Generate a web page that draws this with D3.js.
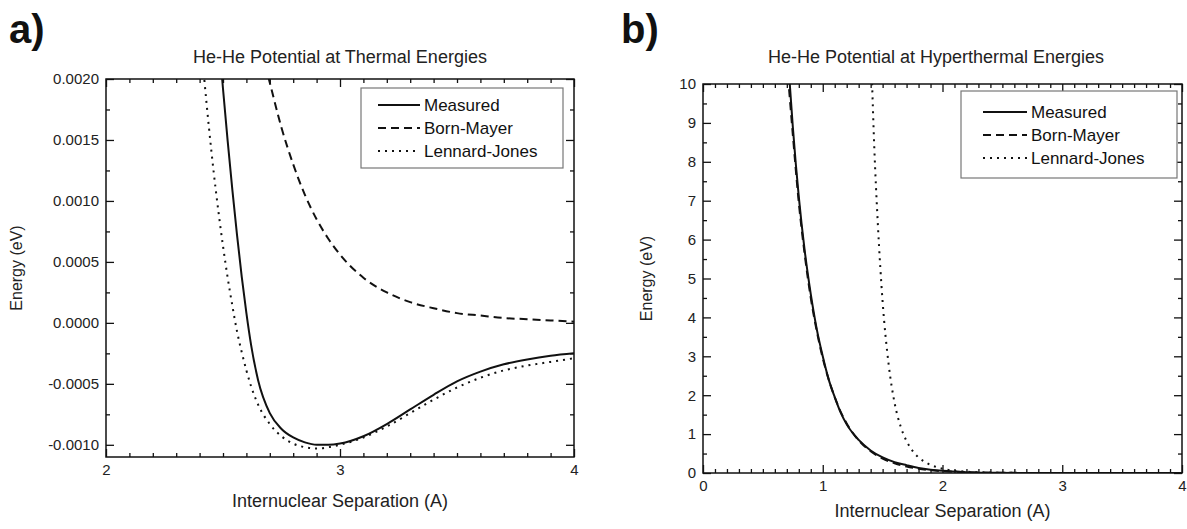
<!DOCTYPE html>
<html>
<head>
<meta charset="utf-8">
<script src="https://cdn.jsdelivr.net/npm/d3@7"></script>
<style>
  body { margin: 0; background: #fff; }
  svg { display: block; font-family: "Liberation Sans", Arial, sans-serif; }
</style>
</head>
<body>
<svg id="chart" width="1187" height="529"></svg>
<script>
// panel a: thermal energies (eV vs A)
const aMeasX = [2.49, 2.50, 2.52, 2.54, 2.56, 2.58, 2.60, 2.62, 2.65, 2.70, 2.75, 2.80, 2.85, 2.90, 2.95, 3.00, 3.10, 3.20, 3.30, 3.40, 3.50, 3.60, 3.70, 3.80, 3.90, 4.00];
const aMeasY = [0.00215, 0.00192, 0.00149, 0.00109, 0.00072, 0.00038, 0.00008, -0.00018, -0.00047, -0.00074, -0.00087, -0.00094, -0.00098, -0.00100, -0.00100, -0.00099, -0.00093, -0.00083, -0.00071, -0.00059, -0.00048, -0.00040, -0.00034, -0.00030, -0.00027, -0.00025];
const aBornX = [2.68, 2.70, 2.75, 2.80, 2.85, 2.90, 2.95, 3.00, 3.10, 3.20, 3.30, 3.40, 3.50, 3.60, 3.70, 3.80, 3.90, 4.00];
const aBornY = [0.00212, 0.00197, 0.00160, 0.00130, 0.00105, 0.00085, 0.00069, 0.00056, 0.00037, 0.00025, 0.00017, 0.00012, 0.00008, 0.00006, 0.00004, 0.00003, 0.00002, 0.00001];
const aLJX = [2.40, 2.42, 2.44, 2.46, 2.48, 2.50, 2.52, 2.54, 2.56, 2.58, 2.60, 2.62, 2.65, 2.70, 2.75, 2.80, 2.85, 2.90, 2.95, 3.00, 3.10, 3.20, 3.30, 3.40, 3.50, 3.60, 3.70, 3.80, 3.90, 4.00];
const aLJY = [0.00245, 0.00200, 0.00160, 0.00124, 0.00092, 0.00063, 0.00037, 0.00014, -0.00007, -0.00024, -0.00039, -0.00052, -0.00067, -0.00083, -0.00093, -0.00099, -0.00102, -0.00103, -0.00102, -0.00100, -0.00094, -0.00085, -0.00074, -0.00063, -0.00053, -0.00045, -0.00039, -0.00035, -0.00032, -0.00029];

// panel b: hyperthermal energies
const bMeasX = [0.72, 0.75, 0.80, 0.85, 0.90, 0.95, 1.00, 1.05, 1.10, 1.15, 1.20, 1.30, 1.40, 1.50, 1.60, 1.70, 1.80, 1.90, 2.00, 2.20, 2.40, 2.60, 3.00, 4.00];
const bMeasY = [10.2, 8.9, 7.1, 5.7, 4.6, 3.7, 3.0, 2.4, 1.95, 1.55, 1.25, 0.85, 0.58, 0.40, 0.28, 0.20, 0.13, 0.085, 0.055, 0.022, 0.008, 0.002, 0, 0];
const bBornX = [0.71, 0.75, 0.80, 0.85, 0.90, 0.95, 1.00, 1.05, 1.10, 1.15, 1.20, 1.30, 1.40, 1.50, 1.60, 1.70, 1.80, 1.90, 2.00, 2.20, 2.40, 2.60, 3.00, 4.00];
const bBornY = [10.2, 8.7, 6.95, 5.6, 4.5, 3.65, 2.95, 2.4, 1.95, 1.57, 1.27, 0.84, 0.56, 0.37, 0.25, 0.165, 0.11, 0.072, 0.048, 0.021, 0.009, 0.004, 0.001, 0];
const bLJX = [1.41, 1.43, 1.46, 1.50, 1.55, 1.60, 1.65, 1.70, 1.75, 1.80, 1.85, 1.90, 2.00, 2.10, 2.20, 2.30, 2.50, 2.70, 3.00, 4.00];
const bLJY = [10.2, 8.4, 6.4, 4.4, 2.8, 1.8, 1.2, 0.82, 0.57, 0.40, 0.29, 0.21, 0.11, 0.06, 0.033, 0.018, 0.006, 0.002, 0.0005, 0];

const seriesNames = ['Measured', 'Born-Mayer', 'Lennard-Jones'];
const aYTicks = [-0.0010, -0.0005, 0.0000, 0.0005, 0.0010, 0.0015, 0.0020];
const aXTicks = [2, 3, 4];
const bYTicks = [0, 1, 2, 3, 4, 5, 6, 7, 8, 9, 10];
const bXTicks = [0, 1, 2, 3, 4];

const styles = [
  { dash: null, width: 2 },
  { dash: '8,5', width: 2 },
  { dash: '2,5', width: 2 }
];

const svg = d3.select('#chart');
const zip = (xs, ys) => xs.map((x, i) => [x, ys[i]]);
// plain hyphen minus, like the original plot
const fmt4 = v => d3.format('.4f')(v).replace('\u2212', '-');

function panel(cfg) {
  const x = d3.scaleLinear().domain(cfg.xDomain).range([cfg.left, cfg.right]);
  const y = d3.scaleLinear().domain(cfg.yDomain).range([cfg.bottom, cfg.top]);
  const w = cfg.right - cfg.left, h = cfg.bottom - cfg.top;

  svg.append('clipPath').attr('id', 'clip-' + cfg.id)
    .append('rect').attr('x', cfg.left).attr('y', cfg.top).attr('width', w).attr('height', h);

  const g = svg.append('g');

  // major + minor ticks on all four sides, pointing inward
  const addAxis = (gen, tr, size, vals, fmt) => {
    const a = g.append('g').attr('transform', tr)
      .call(gen.tickValues(vals).tickSize(size).tickPadding(7).tickFormat(fmt || ''));
    a.select('.domain').remove();
    a.selectAll('line').attr('stroke', '#111').attr('stroke-width', 1.3);
    a.selectAll('text').attr('fill', '#222').style('font-size', '15px');
    return a;
  };
  addAxis(d3.axisBottom(x), `translate(0,${cfg.bottom})`, -8, cfg.xTicks, cfg.xFmt);
  addAxis(d3.axisBottom(x), `translate(0,${cfg.bottom})`, -4, cfg.xMinor);
  addAxis(d3.axisTop(x), `translate(0,${cfg.top})`, -8, cfg.xTicks);
  addAxis(d3.axisTop(x), `translate(0,${cfg.top})`, -4, cfg.xMinor);
  addAxis(d3.axisLeft(y), `translate(${cfg.left},0)`, -8, cfg.yTicks, cfg.yFmt);
  addAxis(d3.axisLeft(y), `translate(${cfg.left},0)`, -4, cfg.yMinor);
  addAxis(d3.axisRight(y), `translate(${cfg.right},0)`, -8, cfg.yTicks);
  addAxis(d3.axisRight(y), `translate(${cfg.right},0)`, -4, cfg.yMinor);

  g.append('rect').attr('x', cfg.left).attr('y', cfg.top).attr('width', w).attr('height', h)
    .attr('fill', 'none').attr('stroke', '#111').attr('stroke-width', 1.5);

  const line = d3.line().x(d => x(d[0])).y(d => y(d[1])).curve(d3.curveMonotoneX);
  cfg.series.forEach((s, i) => {
    g.append('path').datum(s)
      .attr('clip-path', `url(#clip-${cfg.id})`)
      .attr('fill', 'none').attr('stroke', '#111')
      .attr('stroke-width', styles[i].width)
      .attr('stroke-dasharray', styles[i].dash)
      .attr('d', line);
  });

  // legend
  const L = cfg.legend;
  g.append('rect').attr('x', L.x0).attr('y', L.y0).attr('width', L.x1 - L.x0).attr('height', L.y1 - L.y0)
    .attr('fill', '#fff').attr('stroke', '#777').attr('stroke-width', 1.2);
  seriesNames.forEach((name, i) => {
    const yy = L.row0 + i * L.step;
    g.append('line').attr('x1', L.s0).attr('x2', L.s1).attr('y1', yy).attr('y2', yy)
      .attr('stroke', '#111').attr('stroke-width', styles[i].width)
      .attr('stroke-dasharray', styles[i].dash);
    g.append('text').attr('x', L.s1 + 4).attr('y', yy).attr('dy', '0.35em')
      .attr('fill', '#111').style('font-size', '17px').text(name);
  });

  // titles
  g.append('text').attr('x', cfg.titleX).attr('y', 63)
    .attr('text-anchor', 'middle').attr('fill', '#222').style('font-size', '18px').text(cfg.title);
  g.append('text').attr('x', (cfg.left + cfg.right) / 2).attr('y', cfg.bottom + cfg.xLabelDy)
    .attr('text-anchor', 'middle').attr('fill', '#222').style('font-size', '18px')
    .text('Internuclear Separation (A)');
  g.append('text').attr('transform', `translate(${cfg.yLabelX},${(cfg.top + cfg.bottom) / 2}) rotate(-90)`)
    .attr('text-anchor', 'middle').attr('fill', '#222').style('font-size', '16px').text('Energy (eV)');
  g.append('text').attr('x', cfg.tagX).attr('y', 43).attr('fill', '#111')
    .style('font-size', '40px').style('font-weight', 'bold').text(cfg.tag);
}

panel({
  id: 'a', tag: 'a)', tagX: 9, title: 'He-He Potential at Thermal Energies', titleX: 340,
  left: 106, right: 574, top: 79, bottom: 457, yLabelX: 22, xLabelDy: 50,
  xDomain: [2, 4], yDomain: [-0.0011, 0.0020],
  xTicks: aXTicks, xMinor: d3.range(21, 40).map(v => v / 10).filter(v => v !== 3),
  yTicks: aYTicks, yMinor: [-0.00075, -0.00025, 0.00025, 0.00075, 0.00125, 0.00175],
  xFmt: d3.format('d'), yFmt: fmt4,
  series: [zip(aMeasX, aMeasY), zip(aBornX, aBornY), zip(aLJX, aLJY)],
  legend: { x0: 361, x1: 563, y0: 88, y1: 168, s0: 378, s1: 420, row0: 105, step: 23 }
});

panel({
  id: 'b', tag: 'b)', tagX: 621, title: 'He-He Potential at Hyperthermal Energies', titleX: 936,
  left: 703, right: 1182, top: 84, bottom: 473, yLabelX: 652, xLabelDy: 44,
  xDomain: [0, 4], yDomain: [0, 10],
  xTicks: bXTicks, xMinor: d3.range(1, 40).filter(v => v % 10 !== 0).map(v => v / 10),
  yTicks: bYTicks, yMinor: d3.range(0.5, 10, 1),
  xFmt: d3.format('d'), yFmt: d3.format('d'),
  series: [zip(bMeasX, bMeasY), zip(bBornX, bBornY), zip(bLJX, bLJY)],
  legend: { x0: 961, x1: 1177, y0: 91, y1: 178, s0: 983, s1: 1027, row0: 112, step: 23 }
});
</script>
</body>
</html>
